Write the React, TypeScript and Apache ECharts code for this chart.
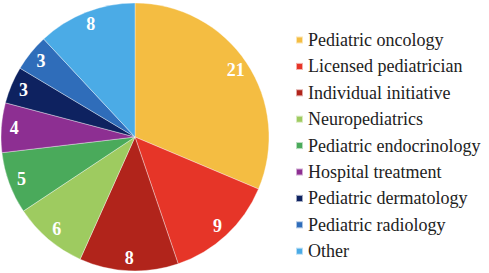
import React, { useEffect, useRef } from "react";
import * as echarts from "echarts";

const categories = [
  "Pediatric oncology",
  "Licensed pediatrician",
  "Individual initiative",
  "Neuropediatrics",
  "Pediatric endocrinology",
  "Hospital treatment",
  "Pediatric dermatology",
  "Pediatric radiology",
  "Other",
];
const values = [21, 9, 8, 6, 5, 4, 3, 3, 8];
const colors = [
  "#F4BD42",
  "#E63528",
  "#B1241B",
  "#9ECB60",
  "#4AAA5B",
  "#8D2F92",
  "#0E2260",
  "#2F6DBA",
  "#4BABE6",
];

const css = `.pie-root svg text { font-family: "Liberation Serif", "Times New Roman", serif !important; }`;

export default function App() {
  const ref = useRef<HTMLDivElement>(null);
  useEffect(() => {
    if (!ref.current) return;
    const chart = echarts.init(ref.current, null, { renderer: "svg" });
    const data = categories.map((name, i) => ({ name, value: values[i], itemStyle: { color: colors[i] } }));
    const labelData = categories.map((name, i) => ({ name, value: values[i] }));
    chart.setOption({
      animation: false,
      color: colors,
      legend: {
        orient: "vertical",
        left: 290,
        top: 26,
        itemWidth: 7,
        itemHeight: 7,
        itemGap: 8.4,
        icon: "rect",
        data: categories,
        textStyle: { fontFamily: "Liberation Serif", fontSize: 18, color: "#222222" },
      },
      series: [
        {
          type: "pie",
          center: [135, 137],
          radius: [0, 134],
          startAngle: 90,
          clockwise: true,
          label: { show: false },
          labelLine: { show: false },
          itemStyle: { borderColor: "rgba(255,255,255,0.6)", borderWidth: 0.6 },
          data,
          silent: true,
        },
        {
          type: "pie",
          center: [135, 137],
          radius: [102, 134],
          startAngle: 90,
          clockwise: true,
          silent: true,
          legendHoverLink: false,
          itemStyle: { color: "rgba(0,0,0,0)", borderWidth: 0 },
          label: {
            position: "inside",
            formatter: "{c}",
            color: "#ffffff",
            fontFamily: "Liberation Serif",
            fontWeight: "bold",
            fontSize: 18,
          },
          labelLine: { show: false },
          data: labelData,
        },
      ],
    });
    return () => chart.dispose();
  }, []);
  return (
    <>
      <style>{css}</style>
      <div className="pie-root" ref={ref} style={{ width: 489, height: 273, position: "absolute", left: 0, top: 0 }} />
    </>
  );
}
